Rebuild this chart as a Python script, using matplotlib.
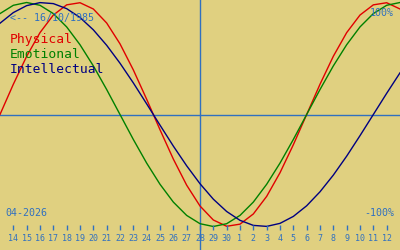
import matplotlib
matplotlib.use('Agg')
import matplotlib.pyplot as plt
import numpy as np

birth = '16/10/1985'
month_label = '04-2026'
day_labels = ['14', '15', '16', '17', '18', '19', '20', '21', '22', '23', '24', '25', '26', '27', '28',
              '29', '30', '1', '2', '3', '4', '5', '6', '7', '8', '9', '10', '11', '12']
# daily values from 13 Apr to 13 May (index 15 = 28 Apr)
physical = [0.0, 0.270, 0.520, 0.731, 0.888, 0.979, 0.998, 0.942, 0.817, 0.631, 0.398, 0.136,
            -0.136, -0.398, -0.631, -0.817, -0.942, -0.998, -0.979, -0.888, -0.731, -0.520,
            -0.270, 0.0, 0.270, 0.520, 0.731, 0.888, 0.979, 0.998, 0.942]
emotional = [0.901, 0.975, 1.0, 0.975, 0.901, 0.782, 0.623, 0.434, 0.223, 0.0, -0.223, -0.434,
             -0.623, -0.782, -0.901, -0.975, -1.0, -0.975, -0.901, -0.782, -0.623, -0.434,
             -0.223, 0.0, 0.223, 0.434, 0.623, 0.782, 0.901, 0.975, 1.0]
intellectual = [0.815, 0.910, 0.972, 0.999, 0.990, 0.945, 0.866, 0.756, 0.618, 0.458, 0.282, 0.095,
                -0.095, -0.282, -0.458, -0.618, -0.756, -0.866, -0.945, -0.990, -0.999, -0.972,
                -0.910, -0.815, -0.690, -0.541, -0.372, -0.189, 0.0, 0.189, 0.372]
today = 15

bg = '#E0D080'
blue = '#3070C0'
colors = {'Physical': '#E00000', 'Emotional': '#008000', 'Intellectual': '#000080'}

fig = plt.figure(figsize=(4, 2.5), dpi=100, facecolor=bg)
ax = fig.add_axes([0, 0, 1, 1], facecolor=bg)
days = np.arange(len(physical))
ax.set_xlim(0, 30)
ax.set_ylim(-135.5 / 112, 114.5 / 112)
ax.axis('off')

ax.axhline(0, color=blue, lw=1)
ax.axvline(today, color=blue, lw=1)

ax.plot(days, physical, color=colors['Physical'], lw=1)
ax.plot(days, emotional, color=colors['Emotional'], lw=1)
ax.plot(days, intellectual, color=colors['Intellectual'], lw=1)

# day ticks
tr = ax.get_xaxis_transform()
tick_x = np.arange(1, len(day_labels) + 1)
ax.vlines(tick_x, 0.08, 0.1, color=blue, lw=1, transform=tr)
for x, lab in zip(tick_x, day_labels):
    ax.text(x, 1 - 241 / 250, lab, transform=tr, ha='center', va='baseline',
            fontsize=6, color=blue, family='DejaVu Sans Mono')


def txt(x, y, s, **kw):
    fig.text(x / 400, 1 - y / 250, s, family='DejaVu Sans Mono', va='baseline', **kw)


txt(10, 20.5, '<-- ' + birth, fontsize=7.2, color=blue)
txt(394, 16, '100%', fontsize=7.2, color=blue, ha='right')
txt(394, 216, '-100%', fontsize=7.2, color=blue, ha='right')
txt(5, 216, month_label, fontsize=7.2, color=blue)
for i, (name, c) in enumerate(colors.items()):
    txt(10, 43 + 15 * i, name, fontsize=9.4, color=c)

fig.savefig('out.png', dpi=100, facecolor=bg)
